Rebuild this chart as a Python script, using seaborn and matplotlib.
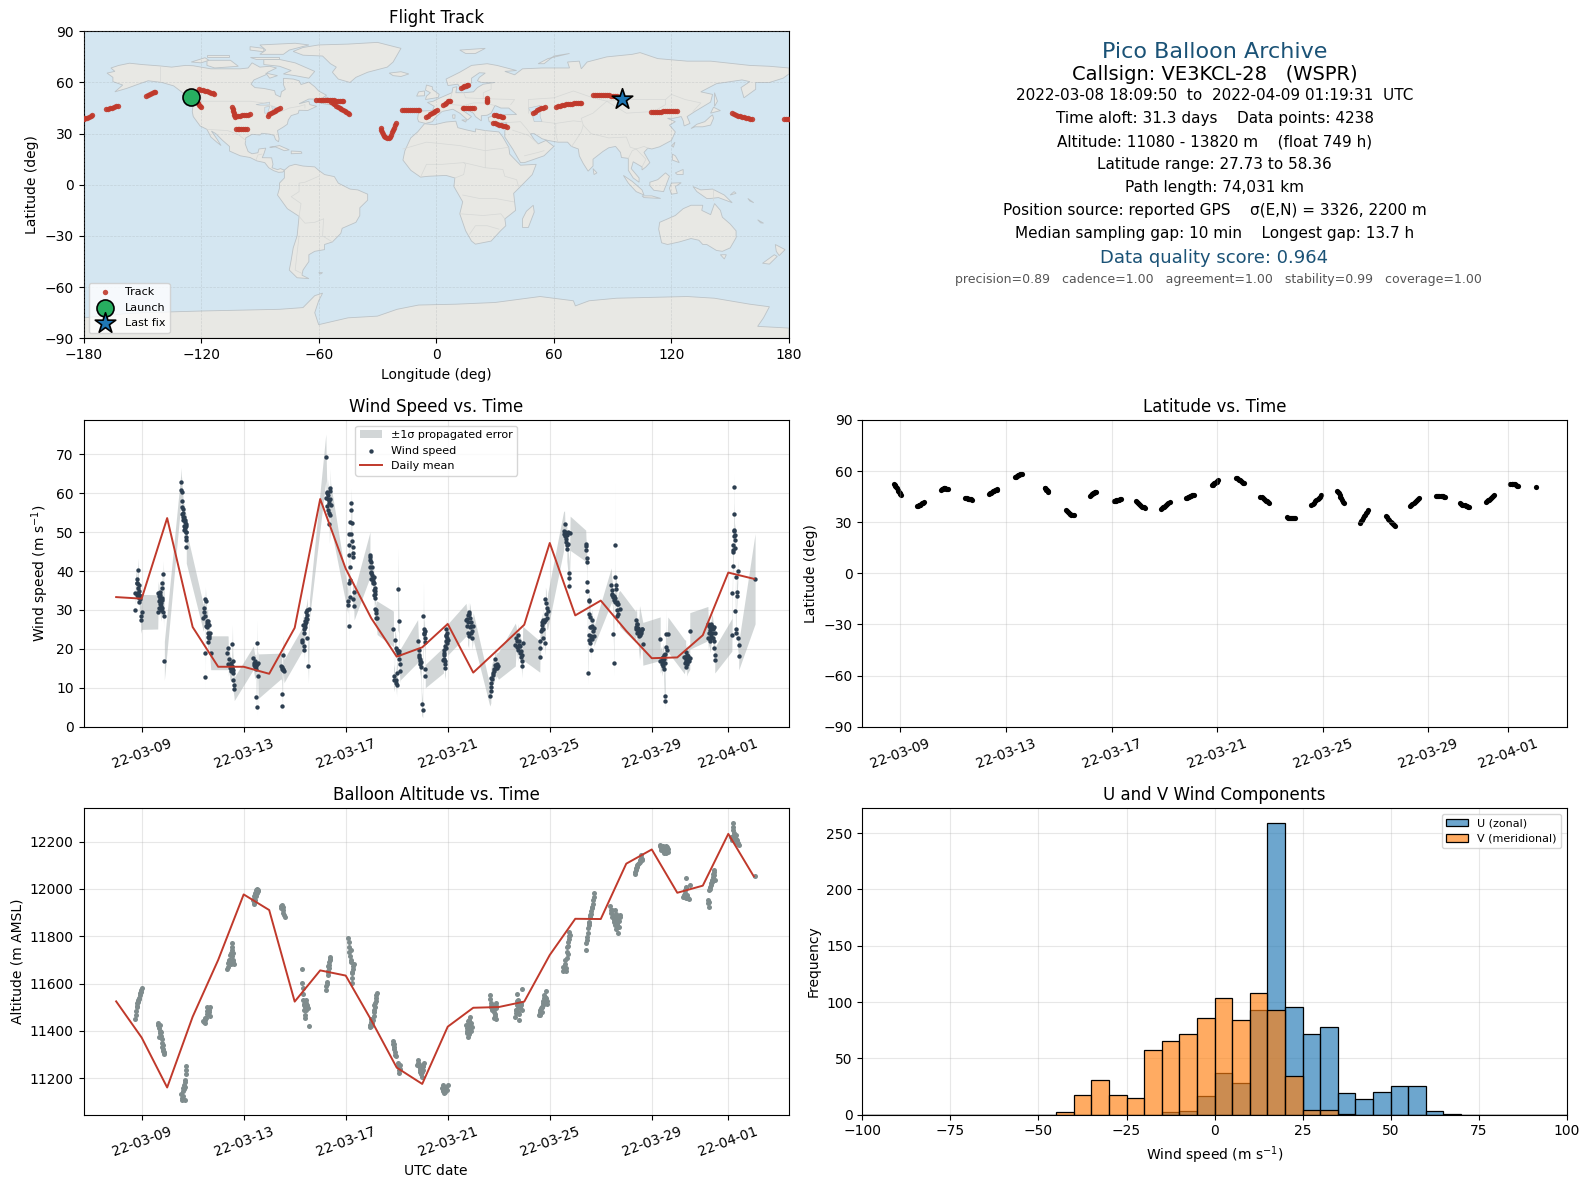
# %% imports
import matplotlib
matplotlib.use("Agg")
import matplotlib.pyplot as plt
import matplotlib.dates as mdates
import numpy as np
import pandas as pd
import seaborn as sns

# %% track on the map (lon, lat), one line per daily piece
track_lon = [-180, -179, -178, -177, -176, -175.5, 177.6, 178.5, 179.5, 180,
             -168.4, -167.4, -166.4, -165.4, -164.4, -163.4, -162.6,
             -148.2, -147.2, -146.2, -145.2, -144.2, -143.4,
             -121, -120, -119, -118, -117, -116, -115, -114, -113.5,
             -122.2, -121.7, -121, -120.4, -119.8,
             -104.1, -103.9, -103.7, -103.4, -103.2, -102.9, -102, -101, -100, -99, -98, -97, -96, -95.2,
             -102.4, -101.4, -100.4, -99.4, -98.4, -97.4, -96.4,
             -86.1, -85.2, -84.3, -83.4, -82.5, -81.6, -80.6, -79.6,
             -61.3, -60, -59, -58, -57, -56, -55, -54, -53, -52, -51, -50, -49, -48, -47.6,
             -53.6, -52.8, -52, -51, -50, -49.2, -48.4, -47.6, -46.8, -46, -45.2, -44.4,
             -28.3, -28.2, -27.8, -27.2, -26.5, -25.9, -25, -24.2, -23.6, -23, -22.4, -22, -21.6, -21.1, -20.6,
             -17.5, -16.5, -15.5, -14.5, -13.5, -12.5, -11.5, -10.5, -9.5, -9,
             -5.4, -4.4, -3.4, -2.4, -1.4, -0.4, 0.6,
             3.5, 4.3, 5.1, 5.9, 6.6, 7.1,
             12.6, 13.4, 14.2, 15, 15.8, 16.3,
             13.4, 14.4, 15.4, 16.4, 17.4, 18.4, 19.4,
             26.1, 26.1, 26.1, 26.1,
             29.5, 30.5, 31.5, 32.5, 33.5, 34.3,
             29, 30, 31, 32, 33, 34, 35, 36.2,
             49.5, 50.5, 51.5, 52.5, 53.5, 54.5, 55.3,
             61.3, 62.3, 63.3, 64.3, 65.3, 66.3, 67.3, 68.3, 69.3, 70.3, 71.3, 72.3, 73.3, 74,
             80.1, 81.1, 82.1, 83.1, 84.1, 85.1, 86.1, 87.1, 88.1, 89.1, 90.1, 91.1, 92.1, 93.1, 94.5,
             109.7, 110.7, 111.7, 112.7, 113.7, 114.7, 115.7, 116.7, 117.7, 118.7, 119.7, 120.7, 121.7, 122.9,
             151.1, 152, 153, 154, 155, 156, 157, 158, 159, 160, 161.2]
track_lat = [38.6, 39, 39.4, 40, 40.5, 40.8, 38.4, 38.4, 38.4, 38.4,
             44.3, 44.5, 44.9, 45.2, 45.6, 46, 46.4,
             52.1, 52.6, 53.2, 53.7, 54.2, 54.6,
             56, 55.8, 55.5, 55.2, 54.9, 54.5, 54, 53.6, 53.3,
             48.8, 47.8, 47, 46.2, 45.4,
             45.4, 44.3, 43.2, 42, 41, 40, 40.1, 40.3, 40.5, 40.7, 40.9, 41, 41.2, 41.3,
             32.7, 32.8, 32.8, 32.7, 32.6, 32.6, 32.5,
             40.5, 41.3, 42, 42.7, 43.3, 44, 44.6, 45.2,
             49.7, 49.8, 49.8, 49.7, 49.7, 49.6, 49.6, 49.5, 49.5, 49.5, 49.4, 49.4, 49.4, 49.3, 49.3,
             48.8, 47.9, 47.3, 46.2, 45.4, 44.8, 44.2, 43.7, 43.1, 42.6, 41.9, 41.3,
             33.1, 32, 30.9, 29.7, 28.7, 27.9, 27.5, 27.3, 28.2, 29.4, 30.8, 32.1, 33.5, 34.8, 36,
             43.7, 43.8, 43.8, 43.7, 43.7, 43.6, 43.6, 43.7, 43.7, 43.7,
             40, 40.6, 41.3, 41.9, 42.5, 43.2, 43.9,
             46.8, 47.5, 48.2, 48.9, 49.1, 49.3,
             56.6, 57.2, 57.7, 58, 58.3, 58.5,
             44.9, 45, 45, 44.9, 44.9, 44.8, 44.8,
             50.7, 50, 49.2, 48.4,
             40.9, 40.7, 40.4, 40.1, 39.8, 39.6,
             36.4, 36, 35.7, 35.3, 35, 34.7, 34.5, 34.1,
             41.9, 42.7, 43.6, 44.3, 44.8, 45.1, 45.4,
             45.8, 46.1, 46.4, 46.7, 46.9, 47.1, 47.3, 47.5, 47.6, 47.7, 47.8, 47.9, 48, 48,
             52.7, 52.7, 52.7, 52.6, 52.6, 52.5, 52.5, 52.4, 52.4, 52.3, 52.2, 52, 51.9, 51.7, 51.3,
             42.5, 42.6, 42.6, 42.7, 42.8, 42.9, 43, 43, 43.1, 43.2, 43.2, 43.3, 43.3, 43.3,
             41.9, 41.4, 41, 40.6, 40.3, 39.9, 39.6, 39.3, 39, 38.7, 38.4]
launch_lon, launch_lat = [-125.1], [51.3]
last_lon, last_lat = [95.0], [50.5]

# %% land outlines for the base map
north_america = [(-168, 65.5), (-164, 66.5), (-166, 68.5), (-162, 70), (-156.5, 71.3), (-150, 70.5), (-141, 69.7),
                 (-135, 69), (-128, 70), (-124, 69.8), (-115, 68), (-108, 68), (-100, 68), (-96, 68.5), (-94, 71.5),
                 (-90, 69), (-85, 69.5), (-81.5, 68.5), (-86, 66), (-87, 64.5), (-93, 61.5), (-94.5, 59), (-92.5, 57),
                 (-88, 56.5), (-82.5, 55.2), (-82, 52.9), (-79.5, 51.5), (-79, 54.5), (-77, 56), (-78, 58.8),
                 (-78, 62.4), (-73, 62), (-70, 61), (-69, 58.8), (-65, 60.2), (-62, 57.5), (-60, 55), (-56, 52.5),
                 (-59, 50.2), (-65, 50.3), (-70, 47.5), (-65, 49), (-64.5, 47), (-61, 46), (-65.5, 43.6), (-70, 43.7),
                 (-70.5, 41.8), (-74, 40.6), (-75.5, 38), (-76, 35.5), (-78, 33.9), (-81, 31.8), (-80.2, 27),
                 (-80.5, 25.2), (-82, 26.5), (-82.8, 29), (-85, 29.7), (-89, 30.2), (-90, 29.2), (-94, 29.6),
                 (-97.2, 27.5), (-97.5, 24), (-96, 19.5), (-94, 18.2), (-91, 18.8), (-90.5, 21), (-87, 21.5), (-88, 18),
                 (-88.8, 15.9), (-84, 15.8), (-83.3, 12), (-83.8, 10), (-81, 8.9), (-79.5, 9.5), (-77.5, 8.6),
                 (-78.2, 7.5), (-80.5, 7.3), (-83, 8.3), (-85.5, 10), (-87.5, 13), (-91.5, 14), (-95, 16), (-100, 17),
                 (-105.5, 19.8), (-105.5, 22.5), (-109, 26), (-112.5, 30), (-114.7, 31.5), (-112, 27), (-109.8, 23),
                 (-112, 25), (-115, 28), (-117, 32.5), (-120.5, 34.5), (-124, 40), (-124.5, 43), (-124, 48), (-123, 49),
                 (-127, 51), (-130, 54.5), (-134, 58), (-140, 60), (-147, 61), (-152, 59), (-158, 56.5), (-164, 54.5),
                 (-160, 58.5), (-165, 60.5), (-165, 63)]
south_america = [(-77.5, 8.6), (-75, 11), (-72, 12), (-68, 11), (-62, 10.5), (-60, 8.5), (-57, 6), (-52, 4.8), (-50, 1),
                 (-44, -2.5), (-40, -3), (-35, -5.5), (-35, -9), (-39, -13.5), (-39, -18), (-41, -22), (-48, -25.5),
                 (-48.7, -28.5), (-53, -33.5), (-57, -35), (-57, -38), (-62, -39), (-65, -41), (-65, -45), (-68, -50),
                 (-68.5, -53), (-65, -55), (-71, -54.5), (-75, -50), (-74, -44), (-73, -37), (-71, -30), (-70, -18.5),
                 (-76, -14), (-81, -6), (-80, -2), (-80, 1), (-77.5, 4), (-77.5, 7)]
africa = [(-6, 35.8), (-1, 35.2), (5, 36.8), (10, 37.3), (11, 33.5), (15, 32.3), (20, 31), (20, 32.8), (25, 31.8),
          (32, 31), (34, 28), (37, 22), (37.5, 18), (40, 15), (43, 11.5), (51, 12), (49, 6), (43, -1), (39.5, -5),
          (40.5, -15), (35, -20), (35.5, -24), (32.8, -27), (28, -33), (20, -34.8), (18, -33), (15, -27), (12, -17),
          (13.5, -10), (9, -1), (9.5, 4), (5, 5.5), (-4, 5), (-8, 4.5), (-13, 8.5), (-17, 14.5), (-16, 20), (-13, 27.5),
          (-9.5, 31)]
eurasia = [(-9, 37), (-9.5, 38.7), (-9, 43.2), (-2, 43.5), (-1, 46), (-4.5, 48.3), (-1.5, 49), (2, 51), (4, 52), (8, 54),
           (8.5, 57), (10.5, 57.5), (10, 54), (14, 54), (19, 54.5), (21, 57), (24, 59), (30, 60), (23, 60), (21, 61),
           (22, 63), (25, 65.5), (22, 65.7), (18, 62.5), (18, 60), (16, 56.5), (13, 55.5), (11, 59), (6, 58.2), (5, 62),
           (12, 66), (18, 70), (26, 71), (31, 70), (41, 67), (35, 66.5), (40, 64.5), (44, 68), (54, 68.5), (68, 68.5),
           (67, 72), (73, 72.5), (74, 68), (77, 72), (87, 75), (100, 76.5), (104, 77.5), (113, 74), (128, 72.5),
           (140, 72.5), (160, 70), (170, 69.5), (180, 68.5), (180, 65), (177, 62.5), (170, 60), (163, 60), (163, 56),
           (157, 51), (155.5, 57), (160, 60.5), (156, 61.5), (143, 59.3), (135, 54.5), (141, 53), (140, 48.5), (132, 43),
           (128, 40), (129.5, 36), (126.5, 34.5), (126, 37.5), (125, 40), (121, 39), (118, 39), (122, 37), (119, 35),
           (122, 31), (120, 26), (114, 22.3), (110, 21), (108, 21.5), (106, 19), (109, 13), (107, 10.5), (105, 8.7),
           (105, 10.5), (100.5, 13.5), (99.5, 9.5), (103.5, 4), (103.5, 1.5), (100.5, 4), (98, 8.5), (98, 15.5),
           (94.5, 16), (94, 19), (91.5, 22.5), (88, 21.7), (85, 19.5), (80, 15), (80, 11), (77.5, 8), (75, 12.5),
           (73, 17), (72.5, 21), (69, 22.5), (67, 25), (62, 25), (57, 26), (54, 27), (50, 30), (48, 30), (50, 26.5),
           (52, 24), (56, 26), (60, 22.5), (55, 17), (45, 13), (43, 13), (39, 21), (35, 28), (35, 31.5), (36, 36.5),
           (30, 36), (27, 37), (26.5, 39.5), (31, 41), (41, 41.2), (37, 45), (33, 45), (30, 46.5), (28, 42), (26, 40.8),
           (23, 40.5), (23, 37.5), (20, 40), (19, 42), (14, 45), (12.5, 44.5), (18, 40), (16, 38), (12, 42), (8.5, 44.3),
           (3, 43), (0, 40), (-2, 37), (-5.5, 36)]
antarctica = [(-180, -78), (-158, -75.5), (-150, -75), (-120, -74), (-100, -73.5), (-80, -73), (-68, -72), (-62, -65),
              (-58, -63.5), (-60, -68), (-62, -75), (-60, -82), (-45, -78), (-30, -77), (-20, -73), (-9, -70.5), (10, -70),
              (30, -69), (53, -65.5), (70, -68), (71, -71), (78, -68), (92, -66.5), (110, -66), (128, -65.5), (142, -66.5),
              (160, -70), (170, -71.5), (167, -78), (164, -83), (180, -84), (180, -90), (-180, -90)]
australia = [(114, -22), (122, -18), (126, -14), (130, -12), (136, -12), (135.5, -15), (140, -17.5), (142, -11), (145, -15),
             (146, -19), (150, -23), (153, -27), (153, -31), (150, -37), (146, -39), (143, -38.5), (138, -35), (136, -35),
             (134, -32.5), (130, -31.5), (124, -33.5), (118, -35), (115, -34), (113.5, -26)]
greenland = [(-73, 78.2), (-68, 76), (-58, 75.5), (-54, 71), (-51, 69), (-53, 66), (-50, 62), (-44, 60), (-41, 63), (-35, 66),
             (-25, 69), (-22, 72), (-20, 76), (-18, 80), (-30, 83.5), (-45, 82.5), (-60, 82), (-68, 80.5)]
islands = [
    [(-80, 73.5), (-72, 71.5), (-67, 69), (-62, 66.5), (-65, 62.5), (-72, 64), (-78, 65), (-74, 67), (-80, 69.5), (-88, 70.5), (-88, 73.5)],
    [(-117, 73), (-105, 73), (-101, 69.5), (-113, 68.5), (-117, 70)],
    [(-90, 76.5), (-78, 76.5), (-75, 79), (-65, 82), (-72, 83), (-90, 82), (-87, 79)],
    [(-125, 72), (-118, 74.5), (-116, 73), (-120, 71.5)],
    [(-95, 75), (-80, 75), (-80, 74), (-92, 74)],
    [(-117, 76), (-106, 76), (-106, 75), (-117, 75)],
    [(-95, 81), (-88, 80), (-88, 78), (-95, 79)],
    [(-87, 65.5), (-81, 64), (-85, 62.5)],
    [(-59, 47.8), (-53, 46.7), (-53, 48.7), (-56, 51.5)],
    [(-24, 65.5), (-18, 66.3), (-14, 65), (-18, 63.5), (-22, 64)],
    [(-85, 22), (-80, 23), (-75, 20.5), (-77.5, 20), (-82, 22.2)],
    [(-74, 19.8), (-69, 19.5), (-68.5, 18.5), (-74, 18.2)],
    [(145, -41), (148, -41), (147, -43.5)],
    [(173, -35), (178, -38), (175, -41.5), (173.5, -39)],
    [(172.5, -41), (174, -42), (170, -46.5), (166.5, -46)],
    [(49.5, -12), (50, -16), (47, -25), (44, -25), (44, -20), (46, -15.5)],
    [(80, 9.5), (82, 7), (80.5, 6)],
    [(130, 33), (132, 34), (136, 34), (140, 35), (141.5, 39), (141, 41), (139.8, 40), (137, 37), (133, 35.5)],
    [(140, 42), (145, 43.5), (141.5, 45.5)],
    [(142, 54), (143.5, 49), (142, 46), (142, 50)],
    [(120.5, 18), (122, 17), (124, 13), (120.5, 14.5)],
    [(122, 7), (126, 9), (126, 6), (123, 6)],
    [(109, 1.5), (113, 3), (117, 7), (119, 5), (117.5, 0.5), (116, -4), (111, -3.2), (109, -0.5)],
    [(95.5, 5.5), (100, 2), (105, -3), (106, -6), (102, -4), (98, 1)],
    [(105, -6.5), (110, -6.5), (114.5, -8), (106, -7.5)],
    [(120, 1), (125, 1.2), (122, -1), (123, -5), (120, -5.5), (119, -2)],
    [(131, -1), (135, -3), (141, -2.5), (147, -6), (151, -10.5), (144, -7.5), (140, -8), (138, -8), (133, -4)],
    [(-5.5, 50), (1, 51.2), (1.5, 53), (-2, 56), (-2, 57.5), (-5, 58.5), (-5.5, 55.5), (-3, 54), (-5, 52)],
    [(-10, 52), (-6, 52.2), (-6, 55), (-9, 54.5)],
    [(12, 79), (25, 80), (20, 77), (15, 77)],
    [(52, 71), (57, 74), (68, 77), (60, 75.5), (55, 71)],
    [(-60, -51.5), (-58, -51.5), (-59, -52.3)],
    [(120.2, 23), (121.8, 25), (121, 22)],
    [(13, 38), (15.5, 38), (15, 36.8)],
    [(8.3, 41), (9.6, 41), (9.5, 39), (8.5, 39)],
    [(164, -20.5), (167, -22.5), (165.5, -22.3)],
    [(159, -8), (162, -10.5), (160, -9.5)],
    [(152, -4), (153, -5), (150, -6)],
]
lakes = [
    [(47, 45), (53, 46.5), (53, 40), (54, 37), (50, 37), (49, 41)],
    [(-92, 47), (-85, 48.5), (-85, 46.7), (-90, 46.7)],
    [(-87.5, 45.5), (-85, 46), (-86, 42), (-87.5, 42)],
    [(-84, 46), (-80, 45), (-82, 43), (-83.5, 44)],
]
# a few country borders, thin lines
borders = [
    [(-141, 69.7), (-141, 60)],
    [(-123, 49), (-95, 49), (-88, 48), (-83, 46), (-82.5, 42), (-79, 43), (-75, 45), (-70, 46), (-67, 47), (-67, 45)],
    [(-117, 32.5), (-106.5, 31.8), (-101, 29.5), (-97.2, 26)],
    [(-92, 14.5), (-91, 17.5), (-89, 18)],
    [(-70, -18.5), (-69, -11), (-74, -7), (-70, -4), (-70, 1), (-67, 1.5), (-60, 5)],
    [(-57.5, -20), (-62, -22), (-67, -22.5), (-70, -18.5)],
    [(-70, -30), (-71, -40), (-72, -50), (-68.5, -52)],
    [(-57.5, -20), (-58, -30), (-53, -33.5)],
    [(-17, 21), (-5, 25), (12, 23), (25, 20), (37, 22)],
    [(25, 31.8), (25, 10), (34, 9), (35, 5), (41, 3), (42, -1)],
    [(-8, 4.5), (-5, 12), (3, 12), (14, 13), (25, 10)],
    [(9.5, 4), (14, 6), (15, 12), (14, 13)],
    [(13.5, -6), (22, -8), (30, -8), (39.5, -10)],
    [(12, -17), (24, -18), (33, -17), (35, -20)],
    [(17, -29), (20, -24), (26, -24), (32, -26)],
    [(-2, 43.5), (3, 43)],
    [(8, 54), (7, 49), (8, 47), (14, 46.5), (19, 48), (24, 48), (30, 46.5)],
    [(14, 54), (15, 51), (24, 50.5), (24, 54), (28, 56), (28, 60)],
    [(24, 50.5), (40, 50), (38, 47)],
    [(47, 42), (47, 50), (60, 51), (70, 55), (80, 51), (87, 49)],
    [(87, 49), (98, 50), (107, 50), (117, 50), (120, 53), (127, 50), (135, 48), (131, 43)],
    [(87, 49), (80, 42), (74, 39), (75, 35), (79, 30), (88, 27.5), (97, 28), (99, 22), (102, 21), (106, 22.5), (108, 21.5)],
    [(87, 49), (97, 42), (111, 43), (117, 47), (117, 50)],
    [(54, 37), (61, 36), (61, 30), (62, 25)],
    [(61, 36), (70, 37.5), (74, 37)],
    [(75, 35), (74, 31), (70, 24), (69, 22.5)],
    [(36, 36.5), (43, 37), (46, 33), (48, 30)],
    [(39, 32), (47, 29), (52, 24)],
    [(45, 17), (52, 19), (55, 20)],
    [(141, -2.5), (141, -9)],
    [(98, 15.5), (100, 20), (102, 21)],
    [(105, 10.5), (107, 15), (102, 21)],
]

# %% wind speed samples: day offset from 2022-03-09, speed and its sigma, one line per daily cluster
wind_day = [-0.25, -0.25, -0.20, -0.20, -0.17, -0.13, -0.13, -0.09, -0.09, -0.07, -0.04, -0.04, 0.0,
            .63, .65, .68, .68, .69, .72, .72, .75, .78, .81, .81, .82, .85, .89, .89,
            1.56, 1.56, 1.57, 1.59, 1.59, 1.62, 1.62, 1.66, 1.66, 1.70, 1.70, 1.74, 1.74, 1.75, 1.75, 1.75,
            2.42, 2.46, 2.46, 2.47, 2.48, 2.50, 2.50, 2.51, 2.55, 2.59, 2.59, 2.61, 2.63, 2.64, 2.65, 2.71,
            3.36, 3.39, 3.40, 3.44, 3.46, 3.53, 3.56, 3.57, 3.59, 3.59, 3.62, 3.63,
            4.38, 4.41, 4.44, 4.48, 4.50, 4.54, 4.54, 4.56, 4.58,
            5.46, 5.49, 5.52, 5.52, 5.53, 5.56, 5.58,
            6.29, 6.30, 6.34, 6.35, 6.38, 6.38, 6.41, 6.44, 6.47, 6.50, 6.50, 6.54, 6.58,
            7.22, 7.25, 7.28, 7.32, 7.32, 7.35, 7.36, 7.39, 7.39, 7.41,
            8.08, 8.08, 8.12, 8.12, 8.14, 8.14, 8.14, 8.16, 8.17, 8.18, 8.18, 8.21, 8.21, 8.22, 8.24, 8.24, 8.27, 8.27, 8.27, 8.27, 8.31, 8.33,
            8.95, 8.95, 8.95, 8.98, 8.99, 8.99, 9.02, 9.06, 9.06, 9.10, 9.10, 9.11, 9.12, 9.15, 9.16, 9.16, 9.19, 9.20, 9.23,
            9.87, 9.88, 9.91, 9.92, 9.97, 9.97, 10.0, 10.0, 10.04, 10.04, 10.08, 10.10, 10.10, 10.13, 10.14,
            10.82, 10.86, 10.89, 10.90, 10.93, 10.95, 10.98, 11.02, 11.05, 11.06, 11.07, 11.10, 11.10, 11.12, 11.12,
            11.83, 11.84, 11.87, 11.88, 11.91, 11.91, 11.93, 11.93, 11.96, 11.97, 12.0,
            12.72, 12.75, 12.78, 12.78, 12.82, 12.85, 12.88, 12.92, 12.95, 12.95, 13.0,
            13.65, 13.69, 13.69, 13.71, 13.76, 13.83, 13.87, 13.90, 13.92, 13.99,
            14.65, 14.68, 14.75, 14.76, 14.81, 14.88, 14.90, 14.92, 14.92, 14.94,
            15.61, 15.62, 15.63, 15.66, 15.69, 15.73, 15.75, 15.82, 15.83, 15.83, 15.86, 15.88, 15.92,
            16.54, 16.58, 16.60, 16.67, 16.67, 16.67, 16.76, 16.76, 16.76, 16.80,
            17.41, 17.42, 17.45, 17.45, 17.46, 17.46, 17.49, 17.52, 17.52, 17.53, 17.54, 17.58, 17.58, 17.62, 17.62, 17.62, 17.65, 17.69, 17.73, 17.73,
            18.41, 18.43, 18.46, 18.47, 18.50, 18.51, 18.55, 18.55, 18.56, 18.60, 18.63, 18.63, 18.65, 18.69, 18.75,
            19.37, 19.39, 19.41, 19.41, 19.45, 19.48, 19.52, 19.61, 19.65,
            20.33, 20.33, 20.39, 20.39, 20.46, 20.47, 20.51, 20.51, 20.55, 20.55, 20.60, 20.63,
            21.28, 21.33, 21.33, 21.37, 21.37, 21.41, 21.49, 21.49,
            22.20, 22.22, 22.25, 22.29, 22.35, 22.39, 22.44, 22.44, 22.46, 22.47, 22.47,
            23.14, 23.16, 23.18, 23.18, 23.20, 23.22, 23.22, 23.24, 23.25, 23.27, 23.27, 23.29, 23.29, 23.29, 23.33, 23.33, 23.37, 23.37, 23.41, 23.41,
            24.05]
wind_speed = [30.0, 34.4, 38.0, 33.9, 36.9, 40.3, 35.6, 33.9, 32.1, 33.5, 28.4, 27.5, 29.5,
              29.5, 34.4, 32.2, 30.5, 33.5, 34.5, 32.6, 30.1, 32.6, 36.9, 35.6, 29.4, 39.2, 28.4, 16.9,
              62.8, 60.9, 60.3, 58.0, 56.4, 55.9, 54.0, 53.8, 51.6, 53.2, 51.0, 51.5, 49.9, 48.7, 47.9, 46.2,
              27.9, 30.5, 29.4, 32.9, 28.4, 19.0, 12.8, 32.2, 26.7, 27.1, 24.1, 21.7, 23.2, 26.2, 22.8, 19.0,
              19.0, 20.3, 16.0, 17.3, 15.1, 14.7, 21.2, 16.8, 13.7, 12.1, 10.7, 9.7,
              17.7, 16.4, 15.4, 15.7, 7.7, 21.5, 5.1, 16.4, 13.0,
              15.6, 14.9, 8.5, 5.4, 14.5, 18.5, 14.3,
              22.4, 21.7, 26.2, 24.1, 20.7, 19.7, 27.1, 27.9, 28.8, 30.1, 22.8, 15.6, 30.3,
              69.2, 60.4, 56.6, 59.6, 55.7, 58.3, 52.1, 54.4, 61.3, 57.0,
              32.2, 31.3, 46.8, 25.9, 49.5, 44.0, 36.9, 33.2, 37.8, 52.7, 41.0, 55.6, 49.6, 57.4, 52.3, 47.6, 46.2, 44.6, 43.5, 32.8, 34.5, 31.1,
              44.2, 42.9, 41.0, 39.5, 42.2, 38.0, 41.0, 38.2, 36.9, 38.5, 35.2, 36.9, 33.9, 34.8, 33.0, 30.3, 28.0, 29.2, 28.0,
              25.1, 13.0, 12.0, 22.2, 20.3, 11.3, 13.8, 10.6, 19.4, 35.4, 27.1, 19.4, 17.3, 14.3, 16.0,
              22.0, 18.5, 19.8, 16.0, 17.4, 15.4, 5.9, 4.3, 28.4, 23.9, 25.0, 21.7, 14.7, 24.5, 13.0,
              17.1, 18.5, 19.8, 16.2, 15.2, 20.7, 23.2, 25.0, 21.5, 24.1, 22.4,
              27.5, 26.0, 28.8, 24.1, 23.2, 29.4, 28.0, 25.8, 24.5, 22.8, 25.8,
              8.0, 9.1, 11.3, 12.6, 13.8, 14.7, 17.3, 15.1, 16.0, 15.7,
              21.1, 22.8, 19.8, 23.5, 20.7, 19.4, 15.6, 18.5, 16.8, 21.5,
              18.0, 22.0, 20.3, 24.5, 26.2, 22.8, 27.5, 21.4, 27.5, 32.9, 31.8, 28.0, 29.7,
              50.2, 52.0, 48.9, 49.3, 46.8, 45.6, 39.5, 38.2, 36.2, 49.7,
              46.5, 45.5, 43.3, 42.3, 37.2, 34.9, 13.8, 32.2, 22.2, 29.0, 32.5, 28.2, 21.5, 25.6, 23.2, 19.8, 27.4, 24.5, 25.4, 23.2,
              36.3, 35.2, 33.9, 23.8, 33.5, 16.4, 38.5, 46.7, 33.0, 36.3, 31.4, 28.4, 30.0, 31.5, 30.3,
              25.6, 27.3, 26.5, 24.1, 25.3, 23.2, 24.1, 25.1, 21.3,
              22.6, 16.8, 17.7, 16.0, 18.5, 14.7, 8.0, 6.7, 23.7, 20.4, 19.8, 23.7,
              18.0, 19.2, 17.0, 18.5, 16.0, 16.8, 17.7, 24.6,
              26.5, 22.8, 24.1, 22.0, 26.0, 25.0, 22.0, 20.3, 24.1, 18.5, 17.1,
              23.6, 34.4, 45.0, 41.4, 46.8, 61.5, 54.6, 50.2, 47.9, 49.3, 29.7, 38.5, 25.0, 24.1, 34.5, 33.5, 40.0, 22.8, 21.0, 18.2,
              38.0]
wind_sigma = [3.5, 3, 3, 3, 3, 3, 3, 3, 3, 3, 2.5, 3.5, 4.5,
              4.4, 3, 3, 3, 3, 3, 3, 3, 3, 3, 3, 3, 3.5, 3, 5,
              3.8, 3.5, 3.5, 3.5, 3.5, 3.5, 3.5, 3.5, 3.5, 3.5, 3.5, 3.5, 3.5, 3.5, 3.5, 4.2,
              3.4, 3.4, 3.4, 3.2, 3.2, 3, 3.7, 3.2, 3, 3, 3, 3, 3, 3, 3, 4.35,
              4.35, 3, 3, 3, 3, 3, 5, 3, 3, 3, 3, 3,
              3, 3, 3, 3, 3, 6, 2.4, 3, 5.7,
              3.3, 3, 3, 2.2, 3, 5, 3,
              3, 3, 3, 3, 3, 3, 3, 3, 3, 3, 3, 4.4, 2.5,
              6, 4, 4, 4, 4, 4, 5, 4, 5, 5.5,
              3, 3, 3, 4.8, 3, 3, 3, 3, 3, 3, 3, 3, 3, 3.9, 3, 3, 3, 3, 3, 3, 3, 3.7,
              5.8, 3, 3, 3, 3, 3, 3, 3, 3, 3, 3, 3, 3, 3, 3, 3, 3, 3, 4.3,
              4.6, 3, 3, 3, 3, 3, 3, 3, 3, 10.6, 3, 3, 3, 3, 4,
              5.5, 3, 3, 3, 3, 3, 3, 2, 9, 3, 3, 3, 3, 3, 3,
              3.3, 3, 3, 3, 3, 3, 3, 3, 3, 3, 4,
              4.2, 3, 3, 3, 3, 2.5, 3, 3, 3, 3, 3.5,
              2.7, 3, 3, 3, 3, 3, 3, 3, 3, 3.5,
              5.5, 3, 3, 3, 3, 3, 3, 3, 3, 4.3,
              4, 3, 3, 3, 3, 3, 3, 3, 3, 3, 3, 3, 4.6,
              5, 3.5, 3, 3, 3, 3, 3, 3, 3, 4.4,
              4, 3, 3, 3, 3, 3, 3, 3, 3, 3, 3, 3, 3, 3, 3, 3, 3, 3, 3, 2.5,
              4.5, 3, 3, 3, 3, 3.4, 3, 16.8, 3, 3, 3, 3, 3, 3, 4.7,
              4, 3, 3, 3, 3, 3, 7, 3, 5.5,
              5.6, 3, 3, 3, 3, 3, 3, 2.6, 6.8, 3, 3, 4.5,
              4.4, 3, 3, 3, 3, 3, 3, 4.7,
              4.4, 3, 3, 3, 3, 3, 3, 3, 3, 3, 3.3,
              4.2, 3, 3, 3, 3, 3.6, 3, 3, 3, 3, 3, 3, 3, 3, 3, 3, 3, 3, 3, 3.6,
              11.6]
# more dots read inside the dense parts of each cluster
wind_more_day = [-.19, -.16, -.15, -.12, -.11, -.10, -.06, -.05,
                 .70, .71, .73, .74, .76, .77, .79, .80,
                 1.60, 1.63, 1.64, 1.68, 1.67, 1.72, 1.72,
                 2.53, 2.56, 2.57, 2.60, 2.62, 2.66,
                 3.48, 3.50, 3.51, 3.54, 3.55, 3.58,
                 4.42, 4.46, 4.47, 4.52, 4.43,
                 5.50, 5.54,
                 6.36, 6.39, 6.42, 6.45, 6.48, 6.46,
                 7.24, 7.27, 7.30, 7.33, 7.37, 7.34, 7.40,
                 8.96, 9.00, 9.04, 9.08, 9.13, 9.14, 9.18,
                 10.02, 10.06, 10.09, 9.99,
                 10.88, 10.92, 10.94, 11.08, 11.09,
                 11.85, 11.90, 11.92, 11.94, 11.95, 11.98, 11.86,
                 12.76, 12.80, 12.83, 12.87, 12.90, 12.93,
                 13.70, 13.73, 13.78, 13.80, 13.85, 13.88, 13.94,
                 14.70, 14.72, 14.78, 14.80, 14.83, 14.85, 14.86,
                 15.68, 15.71, 15.72, 15.77, 15.80, 15.85, 15.90,
                 16.56, 16.59, 16.61, 16.62, 16.64, 16.65, 16.70, 16.70,
                 17.43, 17.56, 17.60, 17.64, 17.66, 17.55,
                 18.44, 18.47, 18.52, 18.54, 18.58, 18.62, 18.66,
                 19.40, 19.43, 19.46, 19.50, 19.53, 19.56, 19.58, 19.63,
                 20.41, 20.43, 20.45, 20.49, 20.50, 20.53, 20.44,
                 21.31, 21.35, 21.38, 21.40, 21.43, 21.45, 21.30, 21.36,
                 22.23, 22.27, 22.30, 22.32, 22.33, 22.37, 22.40, 22.42, 22.27,
                 23.19, 23.21, 23.23, 23.26]
wind_more_speed = [37.0, 34.3, 33.2, 36.5, 33.3, 34.8, 32.8, 33.6,
                   33.0, 31.6, 33.8, 31.0, 31.8, 30.2, 33.0, 30.5,
                   54.7, 53.0, 55.0, 52.5, 50.5, 52.0, 50.0,
                   26.0, 27.2, 25.6, 26.4, 23.0, 24.0,
                   15.8, 16.4, 14.2, 15.6, 15.0, 14.5,
                   15.9, 15.8, 14.9, 16.1, 16.8,
                   15.3, 14.8,
                   25.0, 26.4, 25.5, 26.8, 27.6, 29.5,
                   58.8, 60.0, 58.5, 57.5, 60.6, 55.0, 58.6,
                   43.5, 39.8, 39.0, 37.5, 35.6, 34.0, 30.0,
                   19.8, 19.0, 18.8, 11.9,
                   18.0, 17.0, 16.5, 24.0, 22.8,
                   17.5, 16.8, 22.0, 20.3, 23.5, 22.9, 19.0,
                   27.6, 27.0, 29.0, 25.6, 26.8, 24.0,
                   10.3, 12.2, 13.3, 14.3, 15.8, 15.5, 15.0,
                   22.0, 20.5, 21.0, 22.0, 19.0, 20.8, 18.0,
                   25.2, 26.8, 25.0, 27.0, 27.3, 29.0, 30.5,
                   49.5, 50.0, 49.8, 47.5, 49.2, 48.2, 50.1, 47.0,
                   47.0, 25.5, 22.5, 26.0, 22.5, 23.5,
                   34.0, 33.2, 32.5, 32.0, 35.5, 32.0, 29.0,
                   25.2, 26.3, 24.5, 24.8, 23.5, 24.7, 24.0, 25.0,
                   17.0, 18.0, 17.2, 17.5, 16.4, 18.6, 15.5,
                   18.0, 17.4, 18.0, 17.5, 18.2, 17.0, 16.4, 15.4,
                   26.0, 24.8, 25.5, 23.3, 26.5, 24.0, 22.8, 25.5, 22.6,
                   45.5, 49.0, 50.5, 46.0]

# daily means, one value per day from 2022-03-08
daily_day = list(range(-1, 25))
daily_speed = [33.3, 32.9, 53.6, 25.6, 15.4, 15.4, 13.6, 25.4, 58.5, 40.6, 27.9, 18.0, 20.4, 26.4, 13.9, 20.0,
               26.2, 47.2, 28.6, 32.4, 24.6, 17.6, 17.8, 23.5, 39.6, 38.0]
daily_alt = [11525, 11372, 11161, 11460, 11700, 11977, 11911, 11524, 11656, 11634, 11446, 11245, 11176, 11418,
             11498, 11501, 11524, 11721, 11874, 11873, 12107, 12167, 11984, 12014, 12233, 12053]

# %% altitude samples
alt_day = [-0.25, -0.24, -0.20, -0.18, -0.17, -0.15, -0.13, -0.10, -0.08, -0.04, 0.0,
           .65, .68, .69, .70, .72, .74, .76, .80, .81, .83, .85, .87, .89,
           1.56, 1.58, 1.61, 1.66, 1.69, 1.71, 1.71, 1.75, 1.75,
           2.42, 2.47, 2.47, 2.52, 2.55, 2.58, 2.61, 2.65, 2.68, 2.68,
           3.36, 3.40, 3.44, 3.46, 3.50, 3.53, 3.53, 3.56, 3.57, 3.60, 3.63,
           4.38, 4.41, 4.42, 4.44, 4.47, 4.49, 4.51, 4.55, 4.58,
           5.46, 5.50, 5.53, 5.56, 5.61,
           6.27, 6.30, 6.31, 6.34, 6.38, 6.38, 6.41, 6.41, 6.44, 6.47, 6.54, 6.58,
           7.23, 7.24, 7.28, 7.29, 7.30, 7.32, 7.35, 7.37, 7.39,
           8.10, 8.12, 8.17, 8.19, 8.21, 8.23, 8.25, 8.27, 8.31,
           8.95, 8.99, 8.99, 9.03, 9.06, 9.09, 9.12, 9.12, 9.16, 9.19, 9.21,
           9.86, 9.88, 9.90, 9.92, 9.97, 10.05, 10.07, 10.07, 10.10, 10.14,
           10.81, 10.84, 10.87, 10.90, 10.92, 10.94, 10.95, 10.98, 11.00, 11.03, 11.07,
           11.78, 11.80, 11.83, 11.85, 11.88, 11.93, 11.96, 12.0,
           12.72, 12.74, 12.78, 12.80, 12.82, 12.85, 12.87, 12.91, 12.93, 12.95,
           13.65, 13.68, 13.68, 13.72, 13.76, 13.82, 13.82, 13.89, 13.91, 13.91,
           14.64, 14.67, 14.69, 14.71, 14.74, 14.77, 14.80, 14.80, 14.83, 14.86, 14.90, 14.93,
           15.58, 15.60, 15.63, 15.66, 15.68, 15.71, 15.74, 15.77, 15.84, 15.86, 15.90,
           16.51, 16.53, 16.59, 16.60, 16.62, 16.64, 16.68, 16.69, 16.70, 16.72, 16.74, 16.77,
           17.42, 17.44, 17.47, 17.50, 17.52, 17.55, 17.57, 17.59, 17.62, 17.66, 17.68, 17.70, 17.73,
           18.37, 18.41, 18.44, 18.46, 18.50, 18.57, 18.57, 18.60, 18.63, 18.67, 18.76,
           19.35, 19.37, 19.39, 19.44, 19.50, 19.54, 19.58, 19.63,
           20.32, 20.36, 20.41, 20.45, 20.49, 20.52, 20.55, 20.58, 20.65,
           21.23, 21.27, 21.32, 21.34, 21.36, 21.36, 21.45, 21.49,
           22.20, 22.23, 22.24, 22.26, 22.30, 22.33, 22.36, 22.39, 22.41, 22.43, 22.47,
           23.12, 23.17, 23.18, 23.18, 23.19, 23.20, 23.25, 23.31, 23.31, 23.37, 23.42,
           24.05,
           -.22, -.12, -.06, -.02,
           .71, .78, .83, .66, .88,
           1.62, 1.65, 1.70, 1.73, 1.59, 1.64,
           2.50, 2.56, 2.60, 2.64, 2.44,
           3.38, 3.42, 3.48, 3.52, 3.55, 3.58,
           4.40, 4.43, 4.46, 4.50, 4.52,
           5.48, 5.55, 5.58,
           6.33, 6.36, 6.40, 6.43, 6.45, 6.50, 6.39,
           7.26, 7.31, 7.33, 7.36, 7.38,
           8.11, 8.14, 8.22, 8.24, 8.26, 8.29,
           8.97, 9.01, 9.10, 9.14, 9.17, 9.20,
           9.87, 9.91, 9.95, 10.06, 10.11,
           10.83, 10.88, 10.93, 10.96, 10.99, 11.02, 11.05,
           11.81, 11.86, 11.90, 11.94,
           12.75, 12.79, 12.84, 12.89, 12.92, 12.77, 12.83,
           13.67, 13.70, 13.74, 13.78, 13.85, 13.90, 13.87,
           14.68, 14.70, 14.75, 14.78, 14.82, 14.84, 14.88, 14.72,
           15.61, 15.65, 15.69, 15.73, 15.75, 15.79, 15.81, 15.88,
           16.55, 16.58, 16.66, 16.71, 16.75, 16.78,
           17.45, 17.48, 17.53, 17.60, 17.64, 17.72,
           18.42, 18.48, 18.52, 18.55, 18.59, 18.62, 18.65, 18.70, 18.72, 18.74,
           19.36, 19.42, 19.47, 19.52, 19.56, 19.60,
           20.34, 20.38, 20.43, 20.47, 20.50, 20.54, 20.60, 20.63, 20.56,
           21.25, 21.29, 21.33, 21.38, 21.42, 21.31,
           22.22, 22.28, 22.31, 22.35, 22.37, 22.42, 22.45,
           23.14, 23.22, 23.27, 23.29, 23.16, 23.34, 23.40]
alt_m = [11449, 11468, 11503, 11506, 11520, 11530, 11524, 11538, 11552, 11566, 11580,
         11432, 11376, 11411, 11424, 11390, 11394, 11379, 11351, 11331, 11325, 11317, 11310, 11301,
         11134, 11118, 11158, 11170, 11107, 11192, 11165, 11251, 11217,
         11444, 11432, 11453, 11453, 11470, 11500, 11475, 11490, 11500, 11463,
         11660, 11686, 11700, 11721, 11683, 11742, 11715, 11770, 11700, 11730, 11683,
         11953, 11936, 11970, 11985, 11981, 11995, 11998, 11990, 11995,
         11929, 11932, 11925, 11900, 11880,
         11660, 11601, 11580, 11531, 11489, 11510, 11524, 11468, 11490, 11510, 11496, 11420,
         11573, 11590, 11608, 11636, 11655, 11675, 11693, 11700, 11714,
         11791, 11756, 11718, 11740, 11700, 11604, 11643, 11660, 11683,
         11418, 11439, 11420, 11435, 11446, 11465, 11482, 11510, 11520, 11538, 11559,
         11359, 11331, 11345, 11313, 11295, 11263, 11235, 11250, 11221, 11256,
         11256, 11277, 11262, 11242, 11225, 11228, 11240, 11207, 11249, 11250, 11263,
         11158, 11145, 11172, 11139, 11144, 11158, 11150, 11172,
         11425, 11411, 11376, 11440, 11404, 11446, 11460, 11432, 11400, 11418,
         11552, 11520, 11500, 11489, 11505, 11482, 11453, 11449, 11520, 11496,
         11460, 11490, 11489, 11556, 11530, 11496, 11446, 11520, 11500, 11517, 11489, 11576,
         11468, 11489, 11468, 11480, 11478, 11503, 11510, 11538, 11569, 11538, 11514,
         11653, 11670, 11700, 11685, 11655, 11665, 11735, 11755, 11725, 11777, 11800, 11820,
         11741, 11770, 11798, 11834, 11848, 11862, 11880, 11890, 11905, 11918, 11935, 11953, 11981,
         11929, 11911, 11911, 11883, 11860, 11911, 11848, 11831, 11876, 11812, 11883,
         12062, 12080, 12090, 12101, 12110, 12122, 12143, 12122,
         12186, 12175, 12172, 12160, 12150, 12165, 12180, 12179, 12158,
         11964, 11975, 11995, 12005, 12045, 11960, 11956, 12017,
         11953, 11925, 11945, 11995, 12010, 12024, 12035, 12052, 12065, 12080, 12038,
         12220, 12224, 12280, 12260, 12249, 12205, 12225, 12228, 12200, 12195, 12186,
         12053,
         11485, 11535, 11560, 11573,
         11400, 11365, 11340, 11425, 11305,
         11145, 11155, 11185, 11235, 11108, 11125,
         11445, 11485, 11490, 11478, 11438,
         11672, 11695, 11700, 11730, 11755, 11690,
         11945, 11955, 11975, 11970, 11985,
         11920, 11910, 11890,
         11555, 11515, 11500, 11530, 11520, 11505, 11455,
         11600, 11650, 11665, 11680, 11705,
         11775, 11735, 11690, 11625, 11650, 11675,
         11425, 11450, 11490, 11500, 11525, 11550,
         11345, 11325, 11300, 11250, 11240,
         11265, 11250, 11235, 11220, 11225, 11235, 11250,
         11150, 11165, 11150, 11165,
         11400, 11425, 11420, 11435, 11415, 11390, 11385,
         11535, 11505, 11495, 11490, 11470, 11505, 11465,
         11475, 11510, 11480, 11470, 11505, 11515, 11510, 11525,
         11480, 11495, 11500, 11525, 11520, 11550, 11545, 11525,
         11660, 11665, 11710, 11760, 11790, 11805,
         11785, 11815, 11855, 11895, 11925, 11965,
         11900, 11890, 11870, 11880, 11895, 11850, 11860, 11840, 11865, 11890,
         12070, 12095, 12105, 12115, 12130, 12125,
         12180, 12165, 12180, 12160, 12170, 12155, 12165, 12170, 12150,
         11970, 11985, 12010, 11975, 11960, 11965,
         11940, 12000, 12015, 12030, 12040, 12070, 12060,
         12215, 12235, 12225, 12210, 12205, 12205, 12190]

# %% latitude samples
lat_day = [-0.25, -0.22, -0.20, -0.17, -0.14, -0.11, -0.08, -0.05, -0.03, 0.0, 0.02,
           .64, .67, .70, .73, .76, .79, .82, .86, .91,
           1.55, 1.58, 1.61, 1.64, 1.67, 1.70, 1.73, 1.76, 1.79,
           2.45, 2.48, 2.52, 2.55, 2.58, 2.61, 2.64, 2.67, 2.70,
           3.36, 3.40, 3.44, 3.48, 3.52, 3.56, 3.60, 3.64, 3.67,
           4.34, 4.37, 4.40, 4.43, 4.47, 4.50, 4.54, 4.57, 4.60,
           5.46, 5.48, 5.50, 5.53, 5.55, 5.58, 5.60,
           6.27, 6.30, 6.34, 6.37, 6.41, 6.44, 6.48, 6.52, 6.56,
           7.18, 7.21, 7.24, 7.27, 7.30, 7.33, 7.36, 7.39, 7.42,
           8.08, 8.12, 8.15, 8.18, 8.22, 8.25, 8.29, 8.32, 8.35,
           8.93, 8.97, 9.01, 9.05, 9.09, 9.13, 9.17, 9.21, 9.25,
           9.86, 9.90, 9.94, 9.98, 10.02, 10.06, 10.11, 10.15, 10.20,
           10.82, 10.86, 10.90, 10.94, 10.98, 11.02, 11.06, 11.10, 11.14,
           11.80, 11.83, 11.86, 11.89, 11.92, 11.95, 11.98, 12.01, 12.04,
           12.70, 12.74, 12.78, 12.81, 12.85, 12.89, 12.93, 12.97, 13.00,
           13.64, 13.68, 13.72, 13.76, 13.80, 13.84, 13.88, 13.92, 13.96,
           14.64, 14.68, 14.72, 14.76, 14.80, 14.84, 14.88, 14.92, 14.96,
           15.57, 15.62, 15.66, 15.71, 15.76, 15.80, 15.85, 15.90, 15.94,
           16.55, 16.58, 16.61, 16.64, 16.67, 16.70, 16.73, 16.76, 16.79,
           17.41, 17.45, 17.49, 17.53, 17.57, 17.61, 17.65, 17.69, 17.73,
           18.39, 18.43, 18.48, 18.52, 18.57, 18.61, 18.66, 18.70, 18.75,
           19.30, 19.35, 19.39, 19.44, 19.48, 19.53, 19.57, 19.62, 19.66,
           20.29, 20.33, 20.38, 20.42, 20.47, 20.51, 20.56, 20.60, 20.64,
           21.20, 21.25, 21.29, 21.33, 21.37, 21.42, 21.46, 21.50, 21.54,
           22.18, 22.22, 22.26, 22.30, 22.34, 22.38, 22.42, 22.46, 22.50,
           23.11, 23.15, 23.18, 23.22, 23.25, 23.29, 23.33, 23.37, 23.40,
           24.06]
lat_deg = [52.4, 51.8, 51.2, 50.5, 49.9, 49.2, 48.5, 47.9, 47.2, 46.5, 45.9,
           39.6, 39.7, 39.9, 40.1, 40.3, 40.6, 41.0, 41.5, 42.0,
           49.2, 49.5, 49.7, 49.9, 50.0, 49.8, 49.6, 49.5, 49.4,
           44.1, 44.1, 44.0, 43.9, 43.7, 43.6, 43.5, 43.4, 43.3,
           46.7, 47.1, 47.4, 47.7, 48.1, 48.5, 48.9, 49.2, 49.4,
           56.3, 56.6, 56.9, 57.2, 57.5, 57.8, 58.1, 58.4, 58.6,
           50.2, 49.8, 49.5, 49.1, 48.8, 48.4, 48.0,
           36.9, 36.3, 35.8, 35.4, 35.0, 34.7, 34.5, 34.3, 34.1,
           45.5, 45.9, 46.3, 46.7, 47.0, 47.3, 47.6, 47.8, 48.0,
           42.2, 42.5, 42.7, 42.8, 43.0, 43.2, 43.3, 43.4, 43.5,
           42.2, 41.7, 41.2, 40.7, 40.2, 39.6, 39.1, 38.7, 38.2,
           37.8, 38.2, 38.7, 39.2, 39.7, 40.2, 40.8, 41.3, 41.8,
           44.3, 44.5, 44.7, 45.0, 45.2, 45.5, 45.7, 45.9, 46.1,
           51.8, 52.1, 52.5, 52.8, 53.2, 53.5, 53.9, 54.2, 54.5,
           56.1, 55.8, 55.4, 55.0, 54.6, 54.2, 53.7, 53.3, 52.9,
           45.1, 44.7, 44.2, 43.7, 43.2, 42.7, 42.2, 41.7, 41.2,
           32.9, 32.7, 32.5, 32.4, 32.4, 32.4, 32.5, 32.6, 32.7,
           40.0, 40.7, 41.4, 42.2, 42.9, 43.6, 44.3, 45.0, 45.7,
           48.6, 47.8, 47.0, 46.0, 45.0, 44.0, 43.0, 42.1, 41.2,
           29.8, 30.7, 31.6, 32.5, 33.4, 34.3, 35.2, 36.1, 37.0,
           33.7, 32.9, 32.0, 31.1, 30.2, 29.5, 28.8, 28.2, 27.8,
           39.6, 40.2, 40.8, 41.4, 42.0, 42.6, 43.1, 43.7, 44.3,
           45.5, 45.6, 45.6, 45.6, 45.6, 45.5, 45.3, 45.0, 44.7,
           41.0, 40.7, 40.4, 40.2, 39.9, 39.6, 39.3, 39.0, 38.8,
           42.0, 42.4, 42.9, 43.3, 43.8, 44.3, 44.8, 45.2, 45.7,
           52.5, 52.6, 52.7, 52.6, 52.5, 52.2, 51.8, 51.4, 51.0,
           50.6]

# %% histogram counts in 5 m/s bins
hist_edges = list(range(-100, 105, 5))
hist_centers = [e + 2.5 for e in hist_edges[:-1]]
u_counts = [0] * 17 + [2, 3.5, 17, 37, 28, 93, 259, 95.5, 72, 78, 19, 14, 20, 25.5, 25.5, 3.3, 1] + [0] * 6
v_counts = [0] * 11 + [2, 17.5, 31, 17.5, 15, 57, 65, 72, 86, 103.5, 84, 108, 93, 34, 4, 4, 1] + [0] * 12

info_lines = ["2022-03-08 18:09:50  to  2022-04-09 01:19:31  UTC",
              "Time aloft: 31.3 days    Data points: 4238",
              "Altitude: 11080 - 13820 m    (float 749 h)",
              "Latitude range: 27.73 to 58.36",
              "Path length: 74,031 km",
              "Position source: reported GPS    σ(E,N) = 3326, 2200 m",
              "Median sampling gap: 10 min    Longest gap: 13.7 h"]
score_parts = "precision=0.89   cadence=1.00   agreement=1.00   stability=0.99   coverage=1.00"

# %% colors and helpers
RED = "#c0392b"
NAVY = "#2c3e50"
GREY = "#7f8c8d"
TITLE_BLUE = "#1a5276"
W, H = 1589, 1189
base_day = pd.Timestamp("2022-03-09")


def to_time(days):
    return base_day + pd.to_timedelta(np.array(days, dtype=float), unit="D")


def px_axes(fig, left, top, right, bottom):
    return fig.add_axes([left / W, 1 - bottom / H, (right - left) / W, (bottom - top) / H])


def date_axis(ax, lo, hi):
    ax.set_xlim(base_day + pd.Timedelta(days=lo), base_day + pd.Timedelta(days=hi))
    ax.xaxis.set_major_locator(mdates.DayLocator(bymonthday=[1, 5, 9, 13, 17, 21, 25, 29]))
    ax.xaxis.set_major_formatter(mdates.DateFormatter("%y-%m-%d"))
    ax.tick_params(axis="x", labelrotation=20)
    ax.set_xlabel("")


fig = plt.figure(figsize=(W / 100, H / 100), dpi=100)

LEFT = (83.5, 789)
RIGHT = (862.4, 1566.7)
ax_map = px_axes(fig, LEFT[0], 31.3, LEFT[1], 338.3)
ax_info = px_axes(fig, RIGHT[0], 31.3, RIGHT[1], 338.3)
ax_wind = px_axes(fig, LEFT[0], 420, LEFT[1], 726.7)
ax_lat = px_axes(fig, RIGHT[0], 420, RIGHT[1], 726.7)
ax_alt = px_axes(fig, LEFT[0], 808.3, LEFT[1], 1114.7)
ax_hist = px_axes(fig, RIGHT[0], 808.3, RIGHT[1], 1114.7)

# %% map
ax_map.set_facecolor("#d4e6f1")
for poly in [north_america, south_america, africa, eurasia, antarctica, australia, greenland] + islands:
    xs, ys = zip(*poly)
    ax_map.fill(xs, ys, facecolor="#e8e8e4", edgecolor="#bcc3c7", linewidth=0.6, zorder=1)
for poly in lakes:
    xs, ys = zip(*poly)
    ax_map.fill(xs, ys, facecolor="#d4e6f1", edgecolor="#bcc3c7", linewidth=0.4, zorder=1.1)
for line in borders:
    xs, ys = zip(*line)
    ax_map.plot(xs, ys, color="#d6d8d6", linewidth=0.5, zorder=1.2)
sns.scatterplot(x=track_lon, y=track_lat, s=15, color=RED, linewidth=0, alpha=0.9, label="Track", zorder=3, ax=ax_map)
sns.scatterplot(x=launch_lon, y=launch_lat, s=150, marker="o", color="#27ae60", edgecolor="black", linewidth=1.2,
                label="Launch", zorder=5, ax=ax_map)
sns.scatterplot(x=last_lon, y=last_lat, s=240, marker="*", color="#1f77b4", edgecolor="black", linewidth=1.2,
                label="Last fix", zorder=5, ax=ax_map)
ax_map.set_xlim(-180, 180)
ax_map.set_ylim(-90, 90)
ax_map.set_xticks(range(-180, 181, 60))
ax_map.set_yticks(range(-90, 91, 30))
ax_map.grid(True, linestyle="--", linewidth=0.5, color="#9aa0a4", alpha=0.3, zorder=2)
ax_map.set_axisbelow(False)
ax_map.set_title("Flight Track", fontsize=12)
ax_map.set_xlabel("Longitude (deg)", fontsize=10)
ax_map.set_ylabel("Latitude (deg)", fontsize=10)
ax_map.legend(loc="lower left", fontsize=8, framealpha=0.8)

# %% text panel
ax_info.set_axis_off()
ax_info.text(0.5, 0.932, "Pico Balloon Archive", transform=ax_info.transAxes, ha="center", va="center",
             fontsize=16, color=TITLE_BLUE)
ax_info.text(0.5, 0.859, "Callsign: VE3KCL-28   (WSPR)", transform=ax_info.transAxes, ha="center", va="center",
             fontsize=14)
for y, line in zip([0.790, 0.716, 0.641, 0.566, 0.491, 0.416, 0.341], info_lines):
    ax_info.text(0.5, y, line, transform=ax_info.transAxes, ha="center", va="center", fontsize=11)
ax_info.text(0.5, 0.261, "Data quality score: 0.964", transform=ax_info.transAxes, ha="center", va="center",
             fontsize=13, color=TITLE_BLUE)
ax_info.text(0.506, 0.193, score_parts, transform=ax_info.transAxes, ha="center", va="center",
             fontsize=9, color="#555555")

# %% wind speed
wind_v = np.array(wind_speed)
wind_s = np.array(wind_sigma)
ax_wind.fill_between(to_time(wind_day), wind_v - wind_s, wind_v + wind_s, color=GREY, alpha=0.35, linewidth=0,
                     label="±1σ propagated error")
sns.scatterplot(x=to_time(wind_day), y=wind_v, s=10, color=NAVY, linewidth=0, label="Wind speed", zorder=3, ax=ax_wind)
sns.scatterplot(x=to_time(wind_more_day), y=wind_more_speed, s=10, color=NAVY, linewidth=0, zorder=3, ax=ax_wind)
sns.lineplot(x=to_time(daily_day), y=daily_speed, color=RED, linewidth=1.4, errorbar=None, label="Daily mean",
             zorder=4, ax=ax_wind)
date_axis(ax_wind, -2.28, 25.38)
ax_wind.set_ylim(0, 78.8)
ax_wind.set_yticks(range(0, 71, 10))
ax_wind.grid(True, alpha=0.3)
ax_wind.set_title("Wind Speed vs. Time", fontsize=12)
ax_wind.set_ylabel("Wind speed (m s$^{-1}$)", fontsize=10)
ax_wind.legend(loc="upper center", fontsize=8)

# %% latitude
sns.scatterplot(x=to_time(lat_day), y=lat_deg, s=14, color="black", linewidth=0, ax=ax_lat)
date_axis(ax_lat, -1.44, 25.24)
ax_lat.set_ylim(-90, 90)
ax_lat.set_yticks(range(-90, 91, 30))
ax_lat.grid(True, alpha=0.3)
ax_lat.set_title("Latitude vs. Time", fontsize=12)
ax_lat.set_ylabel("Latitude (deg)", fontsize=10)

# %% altitude
sns.scatterplot(x=to_time(alt_day), y=alt_m, s=13, color=GREY, linewidth=0, zorder=3, ax=ax_alt)
sns.lineplot(x=to_time(daily_day), y=daily_alt, color=RED, linewidth=1.4, errorbar=None, zorder=4, ax=ax_alt)
date_axis(ax_alt, -2.28, 25.38)
ax_alt.set_ylim(11046, 12341)
ax_alt.set_yticks(range(11200, 12201, 200))
ax_alt.grid(True, alpha=0.3)
ax_alt.set_title("Balloon Altitude vs. Time", fontsize=12)
ax_alt.set_xlabel("UTC date", fontsize=10)
ax_alt.set_ylabel("Altitude (m AMSL)", fontsize=10)

# %% histogram
sns.histplot(x=hist_centers, weights=u_counts, bins=hist_edges, color="#1f77b4", alpha=0.65, edgecolor="black",
             linewidth=0.9, label="U (zonal)", ax=ax_hist)
sns.histplot(x=hist_centers, weights=v_counts, bins=hist_edges, color="#ff7f0e", alpha=0.65, edgecolor="black",
             linewidth=0.9, label="V (meridional)", ax=ax_hist)
ax_hist.set_xlim(-100, 100)
ax_hist.set_ylim(0, 272)
ax_hist.set_xticks(range(-100, 101, 25))
ax_hist.grid(True, alpha=0.3)
ax_hist.set_axisbelow(True)
ax_hist.set_title("U and V Wind Components", fontsize=12)
ax_hist.set_xlabel("Wind speed (m s$^{-1}$)", fontsize=10)
ax_hist.set_ylabel("Frequency", fontsize=10)
ax_hist.legend(loc="upper right", fontsize=8)

fig.savefig("out.png", dpi=100)
